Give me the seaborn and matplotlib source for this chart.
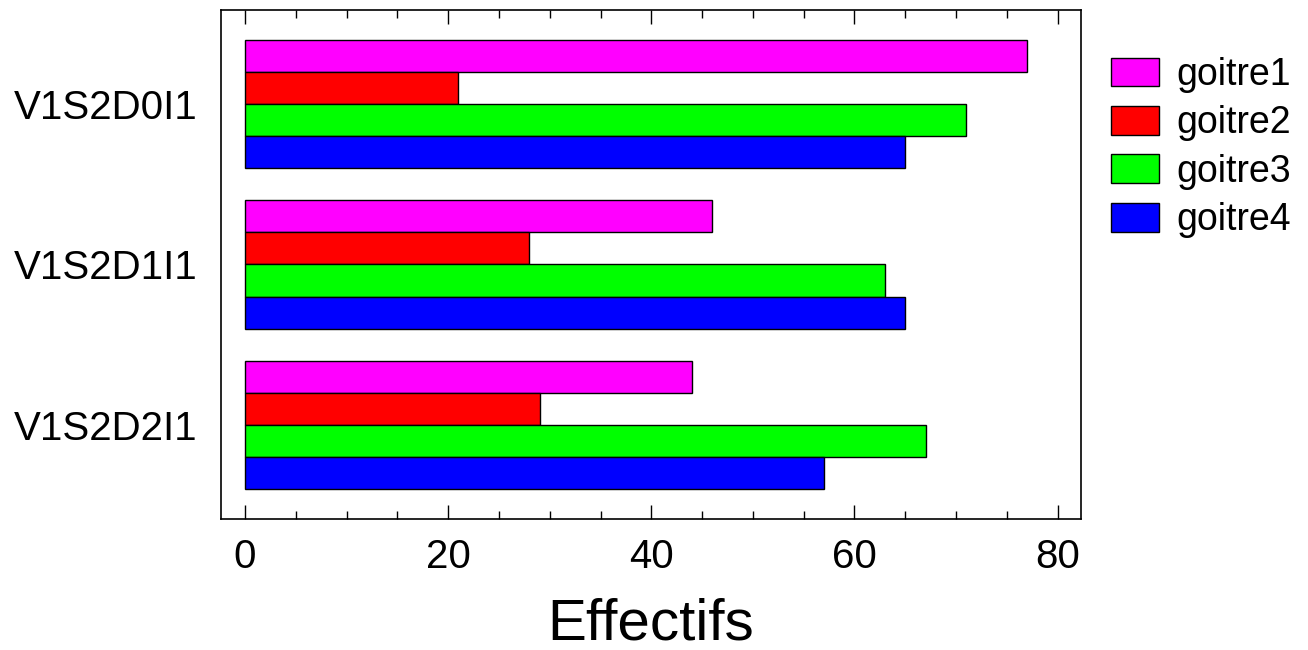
import matplotlib
matplotlib.use("Agg")
import matplotlib.pyplot as plt
import matplotlib.ticker as mticker
import pandas as pd
import seaborn as sns

# ---------------------------------------------------------------------------
# Data
# ---------------------------------------------------------------------------
GROUPS  = ["V1S2D0I1", "V1S2D1I1", "V1S2D2I1"]
SERIES  = ["goitre1", "goitre2", "goitre3", "goitre4"]
GOITRE1 = [77, 46, 44]
GOITRE2 = [21, 28, 29]
GOITRE3 = [71, 63, 67]
GOITRE4 = [65, 65, 57]
COLORS  = {"goitre1": "#FF00FF", "goitre2": "#FF0000",
           "goitre3": "#00FF00", "goitre4": "#0000FF"}

sns.set_theme(style="white")
plt.rcParams["font.family"] = ["Liberation Sans", "DejaVu Sans"]
plt.rcParams.update({
    "text.color":       "black",
    "axes.labelcolor":  "black",
    "xtick.color":      "black",
    "ytick.color":      "black",
})

rows = []
for name, vals in zip(SERIES, [GOITRE1, GOITRE2, GOITRE3, GOITRE4]):
    for g, v in zip(GROUPS, vals):
        rows.append({"groupe": g, "serie": name, "effectif": v})
df = pd.DataFrame(rows)

fig = plt.figure(figsize=(13.08, 6.5), dpi=100)
ax = fig.add_axes([221 / 1308, 1 - 519 / 650, (1081 - 221) / 1308, (519 - 10) / 650])

sns.barplot(data=df, x="effectif", y="groupe", hue="serie", order=GROUPS,
            hue_order=SERIES, palette=COLORS, orient="h", width=0.8,
            saturation=1, edgecolor="black", linewidth=1, ax=ax)

ax.set_xlim(-2.36, 82.3)
ax.set_ylim(2.59, -0.59)
ax.xaxis.set_major_locator(mticker.MultipleLocator(20))
ax.xaxis.set_minor_locator(mticker.MultipleLocator(5))
ax.tick_params(axis="x", which="major", direction="in", length=10, width=1,
               top=True, bottom=True, labelsize=29, pad=14)
ax.tick_params(axis="x", which="minor", direction="in", length=6, width=1,
               top=True, bottom=True)
ax.tick_params(axis="y", which="both", length=0, labelsize=29, pad=17)
for s in ax.spines.values():
    s.set_visible(True)
    s.set_color("black")
    s.set_linewidth(1.2)

ax.set_xlabel("Effectifs", fontsize=42, labelpad=15)
ax.set_ylabel("")

ax.legend(loc="upper left", bbox_to_anchor=(1.017, 0.937), frameon=False,
          fontsize=27, handlelength=1.3, handleheight=0.8,
          handletextpad=0.45, labelspacing=0.33, borderaxespad=0)

fig.savefig("out.png", dpi=100)
